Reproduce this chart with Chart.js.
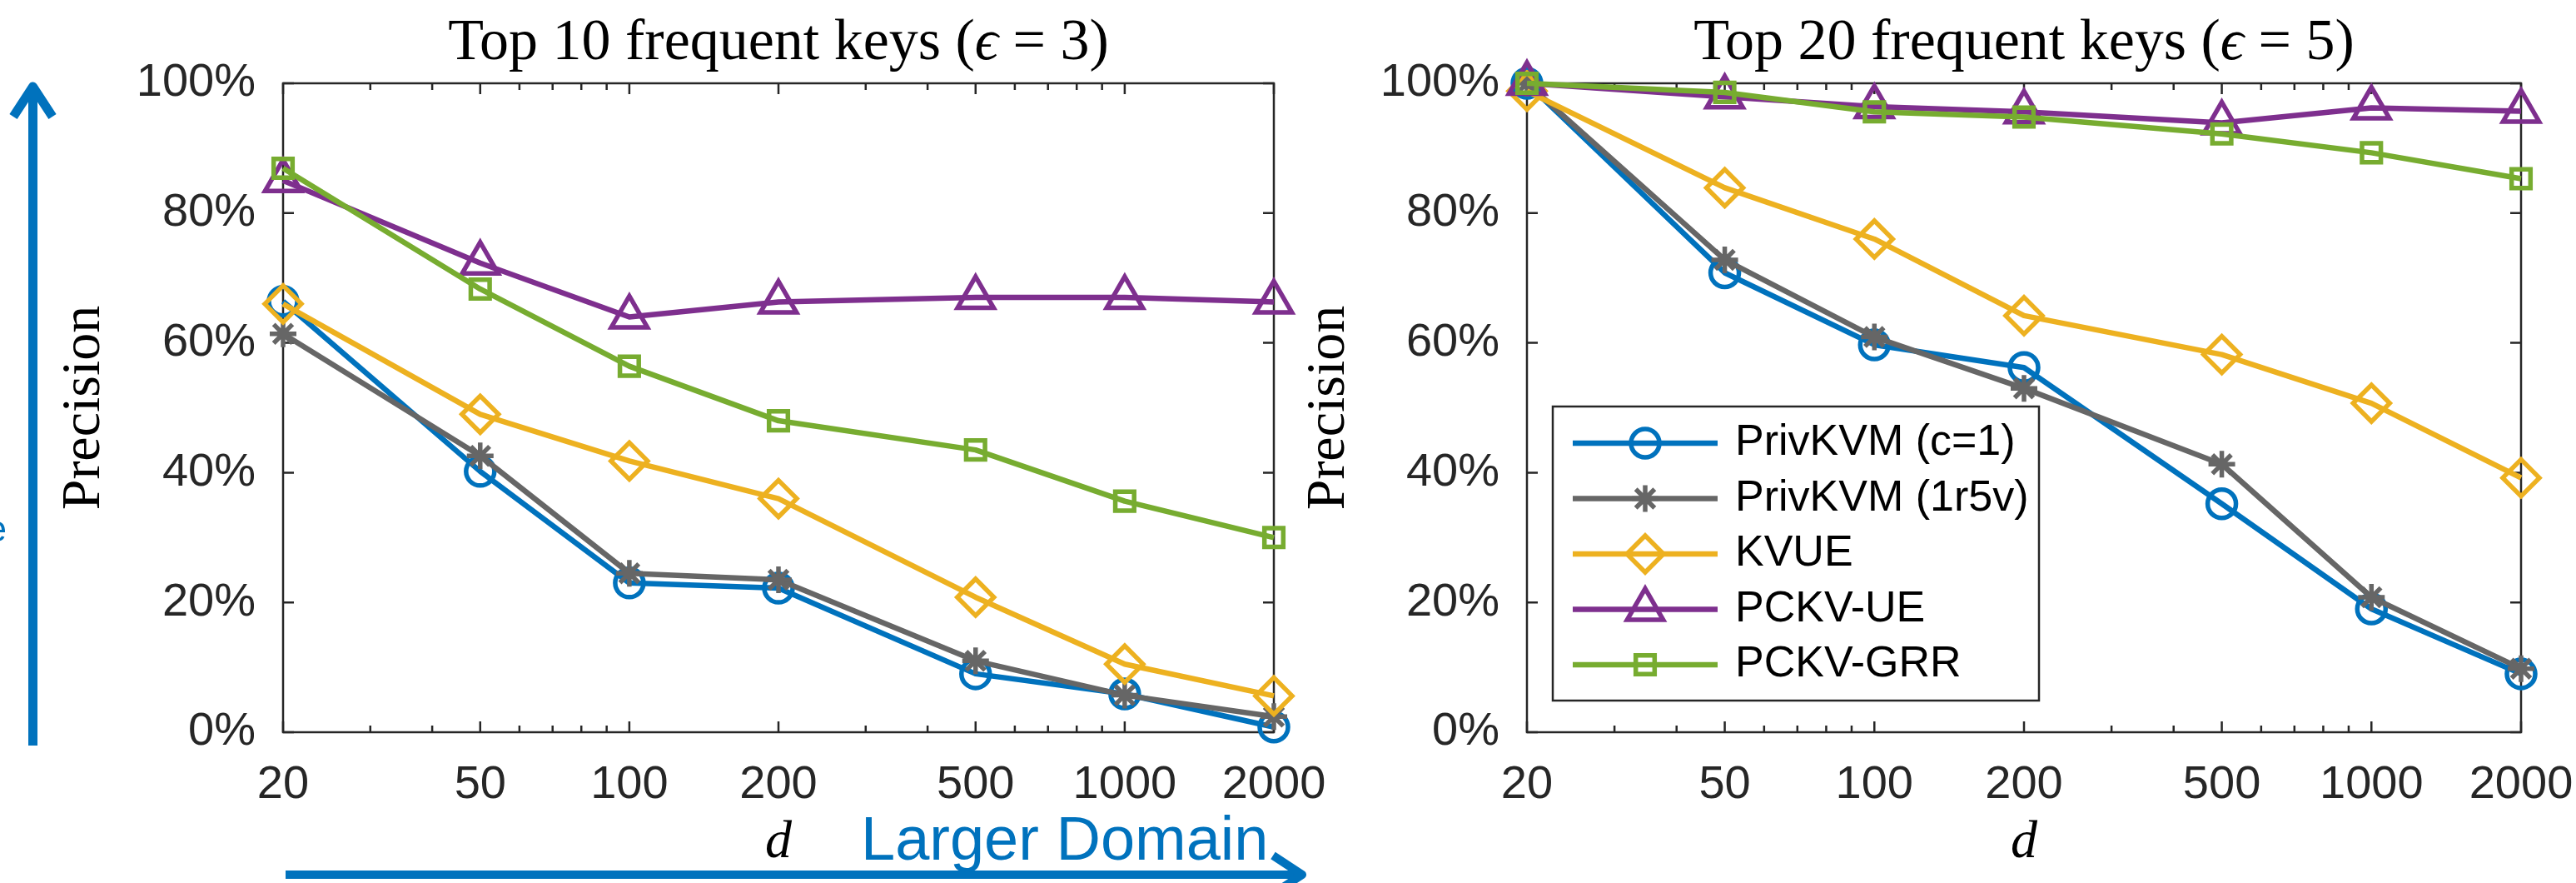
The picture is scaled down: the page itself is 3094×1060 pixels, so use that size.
<!DOCTYPE html>
<html>
<head>
<meta charset="utf-8">
<script src="https://cdn.jsdelivr.net/npm/chart.js@4.4.1/dist/chart.umd.min.js"></script>
<style>
  html, body { margin: 0; padding: 0; background: #fff; }
  body { width: 3094px; height: 1060px; position: relative; overflow: hidden; }
  .panel { position: absolute; top: 0; height: 1060px; }
  #leftPanel { left: 0; width: 1600px; }
  #rightPanel { left: 1540px; width: 1554px; }
</style>
</head>
<body>
<div class="panel" id="leftPanel"><canvas id="leftChart"></canvas></div>
<div class="panel" id="rightPanel"><canvas id="rightChart"></canvas></div>
<script>
// domain sizes d (x axis, log scale)
const domainSizes = [20, 50, 100, 200, 500, 1000, 2000];
const xTickValues = [20, 30, 40, 50, 60, 70, 80, 90, 100, 200, 300, 400, 500, 600, 700, 800, 900, 1000, 2000];
const xLabelValues = [20, 50, 100, 200, 500, 1000, 2000];
const yTickValues = [0, 20, 40, 60, 80, 100];

const seriesNames = ['PrivKVM (c=1)', 'PrivKVM (1r5v)', 'KVUE', 'PCKV-UE', 'PCKV-GRR'];

// Top 10 frequent keys, eps = 3 (precision in %)
const privC1Top10 = [66.4, 40.2, 23.0, 22.2, 9.0, 5.9, 0.8];
const priv1r5vTop10 = [61.4, 42.6, 24.5, 23.5, 11.0, 5.7, 2.4];
const kvueTop10 = [66.0, 49.0, 41.8, 36.0, 20.8, 10.5, 5.6];
const pckvUeTop10 = [85.0, 72.3, 64.0, 66.3, 67.0, 67.0, 66.3];
const pckvGrrTop10 = [86.9, 68.3, 56.4, 48.0, 43.5, 35.6, 30.0];

// Top 20 frequent keys, eps = 5 (precision in %)
const privC1Top20 = [100, 70.8, 59.7, 56.2, 35.2, 19.0, 9.0];
const priv1r5vTop20 = [100, 72.8, 60.9, 53.0, 41.3, 20.8, 9.8];
const kvueTop20 = [98.8, 83.9, 76.0, 64.2, 58.2, 50.7, 39.2];
const pckvUeTop20 = [100, 97.9, 96.4, 95.6, 93.9, 96.2, 95.7];
const pckvGrrTop20 = [100, 98.6, 95.6, 94.8, 92.2, 89.3, 85.3];

const colors = ['#0072BD', '#666666', '#EDB120', '#7E2F8E', '#77AC30'];
const markers = ['circle', 'star', 'rectRot', 'triangle', 'rect'];
const markerSizes = [17, 16, 22, 25, 16];

const axisColor = '#262626';
const sansFont = "'Liberation Sans', Arial, Helvetica, sans-serif";
const serifFont = "'Liberation Serif', 'Times New Roman', serif";

function buildDatasets(seriesList) {
  return seriesList.map((vals, i) => ({
    label: seriesNames[i],
    data: domainSizes.map((d, j) => ({ x: d, y: vals[j] })),
    borderColor: colors[i],
    backgroundColor: colors[i],
    borderWidth: 6.5,
    borderJoinStyle: 'round',
    pointStyle: markers[i],
    pointRadius: markerSizes[i],
    pointBorderWidth: 5.5,
    pointBorderColor: colors[i],
    pointBackgroundColor: 'rgba(0,0,0,0)',
    tension: 0,
    clip: false,
    order: seriesList.length - i
  }));
}

// box around the plot + inward ticks on all four sides
const boxTicks = {
  id: 'boxTicks',
  beforeDatasetsDraw(chart) {
    const { ctx, chartArea: a, scales } = chart;
    ctx.save();
    ctx.strokeStyle = axisColor;
    ctx.lineWidth = 2.5;
    ctx.beginPath();
    xTickValues.forEach(v => {
      const px = scales.x.getPixelForValue(v);
      const len = xLabelValues.includes(v) ? 13 : 8;
      ctx.moveTo(px, a.bottom); ctx.lineTo(px, a.bottom - len);
      ctx.moveTo(px, a.top); ctx.lineTo(px, a.top + len);
    });
    yTickValues.forEach(v => {
      const py = scales.y.getPixelForValue(v);
      ctx.moveTo(a.left, py); ctx.lineTo(a.left + 13, py);
      ctx.moveTo(a.right, py); ctx.lineTo(a.right - 13, py);
    });
    ctx.stroke();
    ctx.strokeRect(a.left, a.top, a.right - a.left, a.bottom - a.top);
    ctx.restore();
  }
};

// title centred over the plot area, with italic epsilon
const plotTitle = {
  id: 'plotTitle',
  afterDraw(chart, args, opts) {
    const { ctx, chartArea: a } = chart;
    const parts = [
      { t: opts.before, f: '70px ' + serifFont },
      { t: '\u03F5', f: 'italic 70px ' + serifFont },
      { t: opts.after, f: '70px ' + serifFont }
    ];
    ctx.save();
    let total = 0;
    parts.forEach(p => { ctx.font = p.f; p.w = ctx.measureText(p.t).width; total += p.w; });
    let x = (a.left + a.right) / 2 - total / 2;
    ctx.fillStyle = '#000';
    ctx.textAlign = 'left';
    ctx.textBaseline = 'alphabetic';
    parts.forEach(p => { ctx.font = p.f; ctx.fillText(p.t, x, 71); x += p.w; });
    ctx.restore();
  }
};

// MATLAB style legend box (line + marker)
const legendBox = {
  id: 'legendBox',
  afterDraw(chart) {
    const { ctx, chartArea: a } = chart;
    const x0 = a.left + 31, y0 = 488, w = 584, h = 353;
    ctx.save();
    ctx.fillStyle = '#fff';
    ctx.fillRect(x0, y0, w, h);
    ctx.strokeStyle = axisColor;
    ctx.lineWidth = 2.5;
    ctx.strokeRect(x0, y0, w, h);
    chart.data.datasets.forEach((ds, i) => {
      const y = 532 + i * 66.5;
      ctx.strokeStyle = ds.borderColor;
      ctx.lineWidth = ds.borderWidth;
      ctx.beginPath();
      ctx.moveTo(x0 + 24, y);
      ctx.lineTo(x0 + 198, y);
      ctx.stroke();
      ctx.fillStyle = 'rgba(0,0,0,0)';
      ctx.lineWidth = ds.pointBorderWidth;
      Chart.helpers.drawPoint(ctx, {
        pointStyle: ds.pointStyle, radius: ds.pointRadius, rotation: 0, borderWidth: ds.pointBorderWidth
      }, x0 + 111, y);
      ctx.fillStyle = '#000';
      ctx.font = '52px ' + sansFont;
      ctx.textAlign = 'left';
      ctx.textBaseline = 'middle';
      ctx.fillText(ds.label, x0 + 219, y);
    });
    ctx.restore();
  }
};

// blue arrows and "Larger Domain" note on the left
const arrowNotes = {
  id: 'arrowNotes',
  afterDraw(chart) {
    const ctx = chart.ctx;
    ctx.save();
    ctx.strokeStyle = '#0072BD';
    ctx.fillStyle = '#0072BD';
    // vertical arrow
    ctx.lineWidth = 11;
    ctx.lineCap = 'butt';
    ctx.beginPath();
    ctx.moveTo(39.5, 895); ctx.lineTo(39.5, 108);
    ctx.stroke();
    ctx.lineJoin = 'round';
    ctx.beginPath();
    ctx.moveTo(16, 140); ctx.lineTo(39.5, 104); ctx.lineTo(63, 140);
    ctx.stroke();
    // horizontal arrow
    ctx.lineWidth = 10;
    ctx.beginPath();
    ctx.moveTo(343, 1050); ctx.lineTo(1560, 1050);
    ctx.stroke();
    ctx.beginPath();
    ctx.moveTo(1529, 1027); ctx.lineTo(1564, 1050); ctx.lineTo(1529, 1073);
    ctx.stroke();
    ctx.font = '74px ' + sansFont;
    ctx.textAlign = 'left';
    ctx.textBaseline = 'alphabetic';
    ctx.fillText('Larger Domain', 1034, 1032);
    ctx.textAlign = 'right';
    ctx.font = '44px ' + sansFont;
    ctx.fillText('e', 8, 650);
    ctx.restore();
  }
};

function makeChart(canvasId, titleAfter, seriesList, yAxisWidth, yTitlePad, rightPad, plugins) {
  return new Chart(document.getElementById(canvasId), {
    type: 'line',
    data: { datasets: buildDatasets(seriesList) },
    options: {
      responsive: true,
      maintainAspectRatio: false,
      devicePixelRatio: 1,
      animation: false,
      events: [],
      layout: { padding: { left: 0, right: rightPad, top: 100, bottom: 0 } },
      plugins: {
        legend: { display: false },
        tooltip: { enabled: false },
        title: { display: false },
        plotTitle: { before: titleAfter[0], after: titleAfter[1] }
      },
      scales: {
        x: {
          type: 'logarithmic',
          min: 20,
          max: 2000,
          afterBuildTicks: s => { s.ticks = xTickValues.map(v => ({ value: v })); },
          afterFit: s => { s.height = 181; s.paddingLeft = 0; s.paddingRight = 0; },
          grid: { display: false, drawTicks: false },
          border: { display: false },
          ticks: {
            autoSkip: false,
            maxRotation: 0,
            padding: 30,
            color: axisColor,
            font: { family: sansFont, size: 56 },
            callback: v => (xLabelValues.includes(v) ? String(v) : '')
          },
          title: {
            display: true,
            text: 'd',
            color: '#000',
            font: { family: serifFont, size: 64, style: 'italic', lineHeight: 1.2 },
            padding: { top: 0, bottom: 9 }
          }
        },
        y: {
          type: 'linear',
          min: 0,
          max: 100,
          afterBuildTicks: s => { s.ticks = yTickValues.map(v => ({ value: v })); },
          afterFit: s => { s.width = yAxisWidth; s.paddingTop = 0; s.paddingBottom = 0; },
          grid: { display: false, drawTicks: false },
          border: { display: false },
          ticks: {
            padding: 33,
            color: axisColor,
            font: { family: sansFont, size: 56 },
            callback: v => v + '%'
          },
          title: {
            display: true,
            text: 'Precision',
            color: '#000',
            font: { family: serifFont, size: 66, lineHeight: 1.2 },
            padding: { top: yTitlePad, bottom: 0 }
          }
        }
      }
    },
    plugins: [boxTicks, plotTitle].concat(plugins)
  });
}

makeChart('leftChart', ['Top 10 frequent keys (', ' = 3)'],
  [privC1Top10, priv1r5vTop10, kvueTop10, pckvUeTop10, pckvGrrTop10],
  340, 62, 70, [arrowNotes]);

makeChart('rightChart', ['Top 20 frequent keys (', ' = 5)'],
  [privC1Top20, priv1r5vTop20, kvueTop20, pckvUeTop20, pckvGrrTop20],
  294, 17, 66, [legendBox]);
</script>
</body>
</html>
